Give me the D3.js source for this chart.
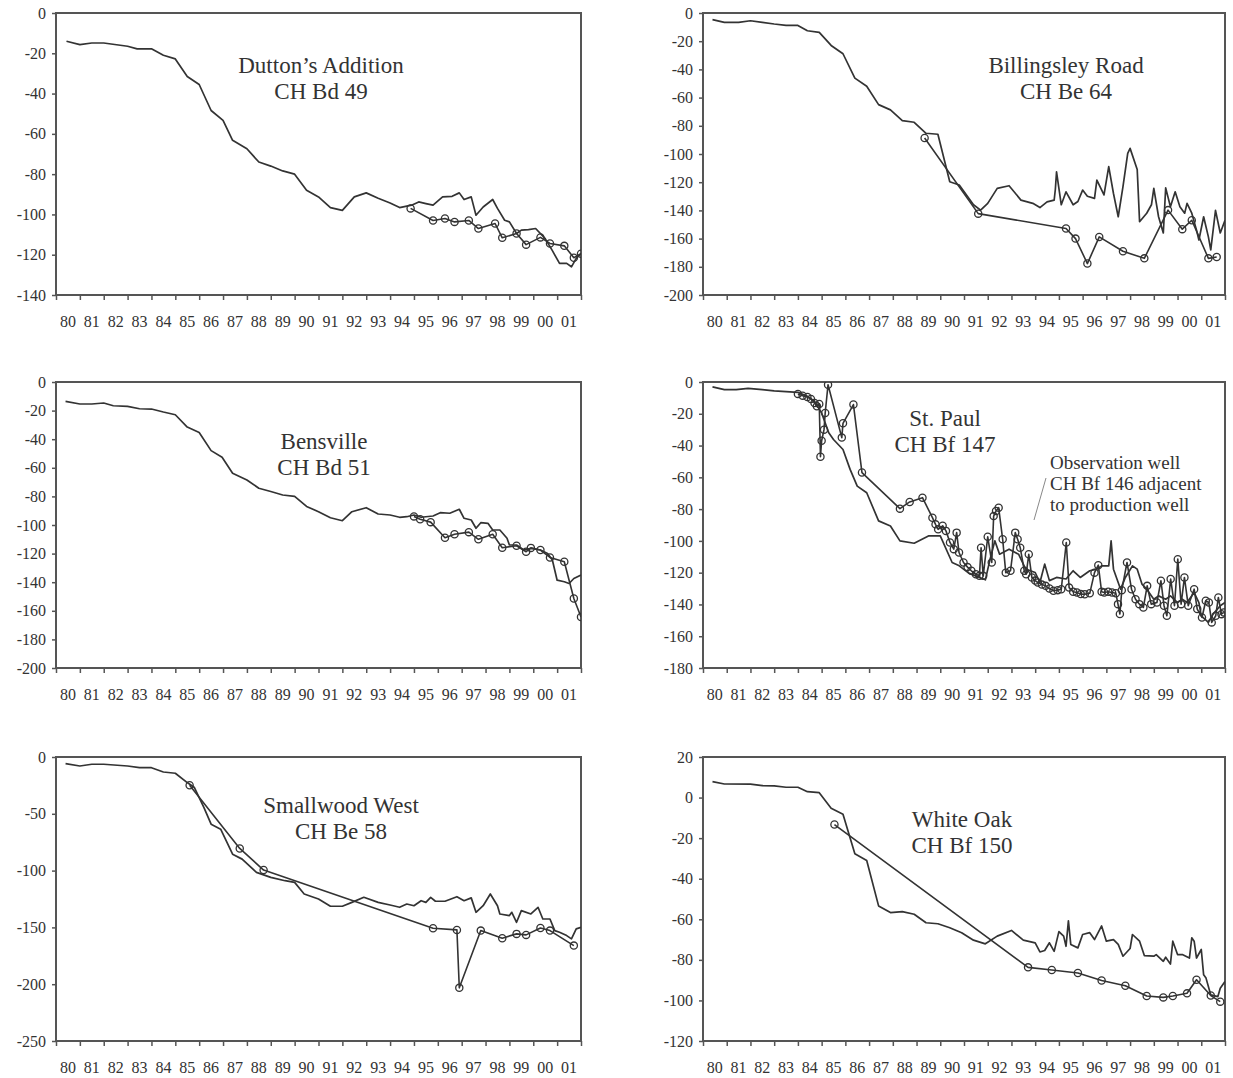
<!DOCTYPE html>
<html>
<head>
<meta charset="utf-8">
<script src="https://cdn.jsdelivr.net/npm/d3@7"></script>
<style>
  body { margin: 0; background: #fff; }
  svg { display: block; font-family: "Liberation Serif", "Times New Roman", serif; }
</style>
</head>
<body>
<svg id="chart" width="1233" height="1078"></svg>
<script>
// water levels (ft) for six wells, 1980 - 2001
// trend = continuous record, well = measured points (circles)

const yearLabels = d3.range(1980, 2002).map(y => d3.format("02d")(y % 100));

const duttonTrend = [[1980.44,-14],[1981.0,-15.7],[1981.5,-14.9],[1982.0,-14.9],[1983.0,-16.5],[1983.4,-17.8],[1984.0,-17.8],[1984.5,-21],[1985.0,-22.8],[1985.5,-31.5],[1986.0,-35.5],[1986.5,-48.4],[1987.0,-53.3],[1987.4,-63.2],[1988.0,-67.4],[1988.5,-74],[1989.0,-76],[1989.5,-78.4],[1990.0,-80],[1990.5,-88],[1991.0,-91.3],[1991.5,-96.6],[1992.0,-98],[1992.5,-91.3],[1993.0,-89.3],[1993.5,-92],[1994.0,-94.3],[1994.4,-96.6],[1994.9,-95.4],[1995.2,-93.8],[1995.5,-94.6],[1995.8,-95.4],[1996.2,-91.3],[1996.6,-91],[1996.9,-89.3],[1997.1,-92.6],[1997.4,-91.3],[1997.6,-100.4],[1997.9,-96.3],[1998.3,-92.6],[1998.5,-97],[1998.8,-102.9],[1999.0,-103.7],[1999.3,-109.5],[1999.5,-107.8],[1999.8,-107.5],[2000.1,-107],[2000.5,-112],[2000.8,-118],[2001.1,-124.3],[2001.4,-124.3],[2001.6,-126],[2001.8,-121.8],[2002.0,-119.4]];
const duttonWell = [[1994.86,-97],[1995.8,-103],[1996.3,-102],[1996.7,-103.7],[1997.3,-103],[1997.7,-107],[1998.4,-104.5],[1998.7,-111.6],[1999.3,-109.5],[1999.7,-115],[2000.3,-111.4],[2000.7,-114.4],[2001.3,-115.6],[2001.7,-121.5],[2002.0,-119.5]];

const billingsleyTrend = [[1980.4,-4.7],[1980.9,-6.6],[1981.5,-6.6],[1982.0,-5.5],[1982.5,-6.6],[1983.0,-7.8],[1983.5,-8.8],[1984.0,-8.8],[1984.4,-12.6],[1984.9,-13.7],[1985.4,-23],[1985.9,-28.9],[1986.4,-46.2],[1986.9,-52],[1987.4,-65],[1987.9,-68.7],[1988.4,-76.3],[1988.9,-77.5],[1989.4,-85.3],[1989.9,-86],[1990.4,-119.7],[1990.8,-122],[1991.4,-136],[1991.7,-139.8],[1992.0,-135],[1992.4,-124.4],[1992.9,-122.5],[1993.4,-132.7],[1993.9,-135],[1994.2,-138],[1994.5,-134],[1994.8,-132.7],[1994.85,-125],[1994.9,-112.6],[1995.1,-136],[1995.3,-126.8],[1995.6,-136],[1995.8,-133.7],[1996.0,-125.6],[1996.2,-130],[1996.5,-131.5],[1996.6,-118.5],[1996.9,-129],[1997.1,-109],[1997.3,-128],[1997.5,-144.5],[1997.7,-123.2],[1997.9,-99.5],[1998.0,-96],[1998.3,-111],[1998.4,-148],[1998.7,-142],[1998.9,-136],[1999.0,-124.4],[1999.2,-144.5],[1999.4,-156],[1999.5,-124],[1999.7,-137.4],[1999.9,-126.8],[2000.1,-137.4],[2000.3,-142],[2000.4,-135],[2000.6,-142],[2000.8,-154],[2000.9,-161],[2001.1,-144.5],[2001.3,-158.8],[2001.4,-168],[2001.6,-140],[2001.8,-156],[2002.0,-147]];
const billingsleyWell = [[1989.34,-88.6],[1991.6,-142.3],[1995.3,-152.8],[1995.7,-160],[1996.2,-177.7],[1996.7,-158.8],[1997.7,-169],[1998.6,-174],[1999.6,-139.8],[2000.2,-153.3],[2000.6,-147],[2001.3,-174],[2001.65,-173]];

const bensvilleTrend = [[1980.4,-13.6],[1981.0,-15.4],[1981.5,-15.4],[1982.0,-14.7],[1982.4,-16.6],[1983.0,-17],[1983.5,-18.7],[1984.0,-18.9],[1984.5,-21],[1985.0,-22.9],[1985.5,-31.5],[1986.0,-35.3],[1986.5,-48],[1986.96,-52.6],[1987.4,-63.8],[1988.0,-68.5],[1988.5,-74.3],[1989.0,-76.6],[1989.5,-79],[1990.0,-80],[1990.5,-87],[1991.0,-90.7],[1991.5,-94.9],[1992.0,-97],[1992.4,-90.7],[1993.0,-87.9],[1993.5,-92.3],[1994.0,-93],[1994.4,-94.6],[1994.7,-94.2],[1995.0,-93],[1995.3,-94.6],[1995.8,-93.7],[1996.1,-91.4],[1996.5,-91.8],[1996.9,-89],[1997.1,-95.3],[1997.4,-96.5],[1997.6,-102.3],[1997.8,-98.4],[1998.1,-98.8],[1998.3,-103.5],[1998.6,-103.5],[1998.9,-109.3],[1999.0,-114],[1999.3,-114],[1999.6,-117.5],[1999.9,-116.4],[2000.3,-117.5],[2000.6,-119.9],[2000.8,-124.5],[2001.0,-138.6],[2001.3,-139.7],[2001.5,-140.9],[2001.7,-137.4],[2002.0,-135]];
const bensvilleWell = [[1995.0,-94],[1995.26,-96],[1995.7,-98],[1996.3,-108.9],[1996.7,-106.5],[1997.3,-105],[1997.7,-110],[1998.3,-106.5],[1998.7,-115.9],[1999.3,-114.5],[1999.7,-118.7],[1999.9,-116],[2000.3,-117.5],[2000.7,-122.7],[2001.3,-125.7],[2001.7,-151.4],[2002.0,-164.3]];

const stPaulTrend = [[1980.4,-3.1],[1980.9,-4.8],[1981.4,-4.8],[1981.9,-4],[1982.5,-4.8],[1983.0,-5.6],[1983.5,-6],[1984.0,-6.5],[1984.4,-9],[1984.7,-12.1],[1985.0,-19.5],[1985.3,-32],[1985.5,-36.2],[1985.9,-42.5],[1986.2,-55],[1986.5,-65.5],[1986.9,-69.7],[1987.4,-87.4],[1987.9,-90.6],[1988.3,-100],[1988.9,-101.5],[1989.5,-96.9],[1990.0,-96.9],[1990.5,-113.6],[1990.8,-115.7],[1991.2,-120.3],[1991.9,-124.5],[1992.1,-111.5],[1992.3,-100],[1992.5,-108.4],[1992.9,-105.2],[1993.3,-108.4],[1993.6,-117.8],[1994.0,-119.9],[1994.2,-126.2],[1994.4,-114.6],[1994.6,-125],[1994.9,-123],[1995.3,-124],[1995.6,-118.8],[1995.9,-123],[1996.3,-118.8],[1996.6,-117.8],[1996.8,-115.7],[1997.1,-115.7],[1997.2,-100],[1997.3,-117.8],[1997.6,-130.4],[1997.8,-123],[1998.1,-115.7],[1998.3,-117.8],[1998.5,-127.2],[1998.7,-130.4],[1999.0,-136.7],[1999.2,-134.6],[1999.5,-136.7],[1999.7,-134.6],[2000.0,-138.8],[2000.2,-136.7],[2000.4,-138.8],[2000.7,-132.5],[2000.9,-138.8],[2001.0,-147.2],[2001.3,-151.3],[2001.5,-146.1],[2001.8,-140.8],[2002.0,-138.8]];
const stPaulWell = [[1984.0,-7.5],[1984.2,-8.6],[1984.4,-9.4],[1984.55,-10.7],[1984.7,-13.2],[1984.8,-15.3],[1984.9,-13.8],[1984.95,-47],[1985.0,-37],[1985.1,-30],[1985.15,-19.5],[1985.27,-1.7],[1985.85,-35],[1985.9,-26],[1986.34,-14.2],[1986.7,-57],[1988.3,-79.7],[1988.71,-75.5],[1989.25,-72.8],[1989.67,-85.4],[1989.8,-89.6],[1989.91,-92.7],[1990.1,-90.5],[1990.24,-93.7],[1990.41,-101],[1990.57,-105.2],[1990.69,-94.8],[1990.79,-107.3],[1990.98,-113.6],[1991.15,-116.5],[1991.31,-118.8],[1991.5,-121],[1991.65,-122],[1991.72,-104.3],[1991.81,-122],[1992.0,-97.4],[1992.17,-113.6],[1992.25,-84.4],[1992.35,-81.2],[1992.46,-79.1],[1992.63,-99],[1992.76,-120],[1992.96,-118.8],[1993.16,-94.8],[1993.26,-99],[1993.37,-104.3],[1993.54,-118.8],[1993.62,-121],[1993.73,-108.4],[1993.86,-123],[1994.0,-125],[1994.11,-126.2],[1994.28,-127.5],[1994.44,-128.3],[1994.6,-130],[1994.77,-131.4],[1994.95,-131],[1995.1,-130.4],[1995.31,-101],[1995.43,-129.4],[1995.6,-132],[1995.76,-132.5],[1995.92,-133.5],[1996.09,-133.6],[1996.3,-133],[1996.5,-120],[1996.66,-115.3],[1996.8,-132],[1996.91,-132.5],[1997.08,-132],[1997.24,-132.5],[1997.4,-133],[1997.49,-139.8],[1997.57,-146],[1997.65,-131],[1997.87,-113.6],[1998.06,-130.4],[1998.23,-136.7],[1998.39,-139.8],[1998.56,-141.9],[1998.72,-128.3],[1998.89,-139.8],[1999.13,-138.8],[1999.3,-125.1],[1999.43,-140.8],[1999.55,-147.1],[1999.71,-124],[1999.87,-140.8],[2000.01,-111.5],[2000.15,-139.8],[2000.29,-123],[2000.45,-140.8],[2000.7,-130.4],[2000.83,-142.9],[2001.03,-148.2],[2001.19,-137.7],[2001.32,-138.8],[2001.44,-151.3],[2001.61,-147.1],[2001.72,-135.6],[2001.85,-146.1],[2001.95,-145]];

const smallwoodTrend = [[1980.4,-5.9],[1981.0,-7.9],[1981.5,-6.4],[1982.0,-6.4],[1983.0,-7.9],[1983.5,-9.4],[1984.0,-9.4],[1984.5,-13.2],[1985.0,-14.3],[1985.5,-22.5],[1985.8,-26.9],[1986.2,-44.5],[1986.5,-59.1],[1986.9,-63.5],[1987.4,-85.5],[1987.8,-89.9],[1988.4,-101.6],[1989.0,-106],[1989.6,-108.9],[1990.0,-110.4],[1990.4,-120.6],[1991.0,-125],[1991.5,-131.4],[1992.0,-131.4],[1992.4,-128],[1992.9,-123.5],[1993.5,-128],[1994.0,-130.3],[1994.4,-132.3],[1994.7,-129.4],[1995.0,-130.9],[1995.3,-126.5],[1995.5,-128],[1995.7,-123.5],[1995.9,-127],[1996.3,-127],[1996.8,-123],[1997.1,-126.5],[1997.4,-124],[1997.6,-136.7],[1997.9,-130.9],[1998.2,-120.6],[1998.5,-130.9],[1998.6,-138.2],[1999.0,-139.6],[1999.1,-136.7],[1999.3,-145.5],[1999.5,-135.2],[1999.9,-138.2],[2000.2,-132.3],[2000.4,-142.6],[2000.7,-142.6],[2000.9,-152.8],[2001.1,-154.3],[2001.4,-157.2],[2001.6,-160.1],[2001.8,-151.3],[2002.0,-149.9]];
const smallwoodWell = [[1985.6,-24.9],[1987.7,-80.5],[1988.7,-99.5],[1995.8,-150.8],[1996.8,-152.2],[1996.9,-203.2],[1997.8,-152.8],[1998.7,-159.5],[1999.3,-155.7],[1999.7,-156.6],[2000.3,-150.5],[2000.7,-152.8],[2001.7,-166]];

const whiteOakTrend = [[1980.4,7.9],[1980.9,6.7],[1982.0,6.6],[1982.5,5.9],[1983.0,5.8],[1983.5,5.1],[1984.0,5.1],[1984.4,2.9],[1984.9,2.4],[1985.4,-5.3],[1985.9,-8.2],[1986.4,-27.7],[1986.9,-31],[1987.4,-53.4],[1987.9,-56.7],[1988.4,-56.2],[1988.9,-57.5],[1989.4,-61.7],[1989.9,-62.2],[1990.4,-64.2],[1990.9,-66.6],[1991.4,-70.3],[1991.9,-72.1],[1992.4,-68.3],[1993.0,-65.5],[1993.5,-70.3],[1994.0,-71.6],[1994.2,-76.1],[1994.4,-75.4],[1994.6,-71.6],[1994.8,-75.8],[1995.0,-66.1],[1995.2,-68.3],[1995.3,-73.3],[1995.4,-60.8],[1995.5,-72.4],[1995.8,-74.1],[1996.0,-67.5],[1996.3,-66.6],[1996.5,-70],[1996.8,-63.3],[1997.0,-70.8],[1997.3,-70],[1997.5,-72.4],[1997.7,-78.2],[1998.0,-74.4],[1998.1,-67.5],[1998.4,-70.8],[1998.6,-77.9],[1999.0,-78.2],[1999.1,-77.4],[1999.4,-80.7],[1999.5,-78.7],[1999.7,-82.1],[1999.8,-70.8],[2000.0,-77.4],[2000.2,-77.4],[2000.5,-79.1],[2000.6,-69.1],[2000.7,-70.8],[2000.8,-79.1],[2001.0,-74.9],[2001.1,-87.4],[2001.2,-89],[2001.4,-97.3],[2001.7,-98.1],[2001.8,-94],[2002.0,-90.7]];
const whiteOakWell = [[1985.54,-13.3],[1993.7,-83.7],[1994.7,-85],[1995.8,-86.5],[1996.8,-90.2],[1997.8,-92.8],[1998.7,-97.8],[1999.4,-98.5],[1999.8,-97.8],[2000.4,-96.5],[2000.8,-89.8],[2001.4,-97.6],[2001.8,-100.6]];

const leftCol = [56, 581];
const rightCol = [703, 1225];
const rows = [[13, 295], [382, 668], [757, 1041]];

const ink = "#333";
const frame = "#555";

class WellPanel {

        constructor(svg, name, cols, rowPos, yDomain, yTicks, trend, well, title, titlePos) {
                this.svg = svg;
                this.name = name;
                this.x0 = cols[0];
                this.x1 = cols[1];
                this.top = rowPos[0];
                this.bottom = rowPos[1];
                this.yTicks = yTicks;
                this.trend = trend;
                this.well = well;
                this.title = title;
                this.titlePos = titlePos;

                this.x = d3.scaleLinear().domain([1980, 2002]).range([this.x0, this.x1]);
                this.y = d3.scaleLinear().domain(yDomain).range([this.bottom, this.top]);

                this.draw();
        }

        draw() {
                const g = this.svg.append("g").attr("id", this.name);

                g.append("clipPath")
                        .attr("id", this.name + "_clip")
                        .append("rect")
                        .attr("x", this.x0)
                        .attr("y", this.top)
                        .attr("width", this.x1 - this.x0)
                        .attr("height", this.bottom - this.top);

                // y axis, plain hyphen for the minus sign as in the original
                const ya = g.append("g")
                        .attr("transform", "translate(" + this.x0 + ",0)")
                        .call(d3.axisLeft(this.y).tickValues(this.yTicks).tickSize(4).tickPadding(6)
                                .tickSizeOuter(0).tickFormat(d => String(d)));
                ya.select(".domain").remove();
                ya.selectAll("line").attr("stroke", frame).attr("stroke-width", 1.5);
                ya.selectAll("text")
                        .attr("fill", ink)
                        .attr("font-size", "16px")
                        .attr("font-family", "Liberation Serif");

                // x axis ticks on each year boundary
                const xa = g.append("g")
                        .attr("transform", "translate(0," + this.bottom + ")")
                        .call(d3.axisBottom(this.x).tickValues(d3.range(1980, 2003)).tickSize(5).tickFormat("").tickSizeOuter(0));
                xa.select(".domain").remove();
                xa.selectAll("line").attr("stroke", frame).attr("stroke-width", 1.5);

                // year labels centred in each interval
                g.selectAll(".yl")
                        .data(yearLabels)
                        .enter()
                        .append("text")
                        .attr("x", (d, i) => this.x(1980 + i + 0.5))
                        .attr("y", this.bottom + 32)
                        .attr("text-anchor", "middle")
                        .attr("font-size", "16px")
                        .attr("fill", ink)
                        .text(d => d);

                // frame
                g.append("rect")
                        .attr("x", this.x0)
                        .attr("y", this.top)
                        .attr("width", this.x1 - this.x0)
                        .attr("height", this.bottom - this.top)
                        .attr("fill", "none")
                        .style("stroke", frame)
                        .style("stroke-width", 2);

                const line = d3.line().x(d => this.x(d[0])).y(d => this.y(d[1]));
                const plot = g.append("g").attr("clip-path", "url(#" + this.name + "_clip)");

                plot.append("path")
                        .datum(this.trend)
                        .attr("d", line)
                        .attr("fill", "none")
                        .style("stroke", ink)
                        .style("stroke-width", 1.7)
                        .style("stroke-linejoin", "round");

                plot.append("path")
                        .datum(this.well)
                        .attr("d", line)
                        .attr("fill", "none")
                        .style("stroke", ink)
                        .style("stroke-width", 1.6)
                        .style("stroke-linejoin", "round");

                plot.selectAll(".pt")
                        .data(this.well)
                        .enter()
                        .append("circle")
                        .attr("cx", d => this.x(d[0]))
                        .attr("cy", d => this.y(d[1]))
                        .attr("r", 3.6)
                        .attr("fill", "none")
                        .style("stroke", ink)
                        .style("stroke-width", 1.3);

                // title, two lines
                g.selectAll(".tt")
                        .data(this.title)
                        .enter()
                        .append("text")
                        .attr("x", this.titlePos[0])
                        .attr("y", (d, i) => this.titlePos[1] + i * 26 + 8)
                        .attr("text-anchor", "middle")
                        .attr("font-size", "23px")
                        .attr("fill", ink)
                        .text(d => d);
        }
}

const svg = d3.select("#chart");

new WellPanel(svg, "dutton", leftCol, rows[0], [-140, 0], d3.range(-140, 1, 20),
        duttonTrend, duttonWell, ["Dutton\u2019s Addition", "CH Bd 49"], [321, 65]);
new WellPanel(svg, "billingsley", rightCol, rows[0], [-200, 0], d3.range(-200, 1, 20),
        billingsleyTrend, billingsleyWell, ["Billingsley Road", "CH Be 64"], [1066, 65]);
new WellPanel(svg, "bensville", leftCol, rows[1], [-200, 0], d3.range(-200, 1, 20),
        bensvilleTrend, bensvilleWell, ["Bensville", "CH Bd 51"], [324, 441]);
new WellPanel(svg, "stpaul", rightCol, rows[1], [-180, 0], d3.range(-180, 1, 20),
        stPaulTrend, stPaulWell, ["St. Paul", "CH Bf 147"], [945, 418]);
new WellPanel(svg, "smallwood", leftCol, rows[2], [-250, 0], d3.range(-250, 1, 50),
        smallwoodTrend, smallwoodWell, ["Smallwood West", "CH Be 58"], [341, 805]);
new WellPanel(svg, "whiteoak", rightCol, rows[2], [-120, 20], d3.range(-120, 21, 20),
        whiteOakTrend, whiteOakWell, ["White Oak", "CH Bf 150"], [962, 819]);

// note on the St. Paul panel
const note = ["Observation well", "CH Bf 146 adjacent", "to production well"];
svg.selectAll(".note")
        .data(note)
        .enter()
        .append("text")
        .attr("x", 1050)
        .attr("y", (d, i) => 469 + i * 21)
        .attr("font-size", "19px")
        .attr("fill", ink)
        .text(d => d);

svg.append("line")
        .attr("x1", 1046).attr("y1", 478)
        .attr("x2", 1034).attr("y2", 520)
        .style("stroke", "#888")
        .style("stroke-width", 1);
</script>
</body>
</html>
